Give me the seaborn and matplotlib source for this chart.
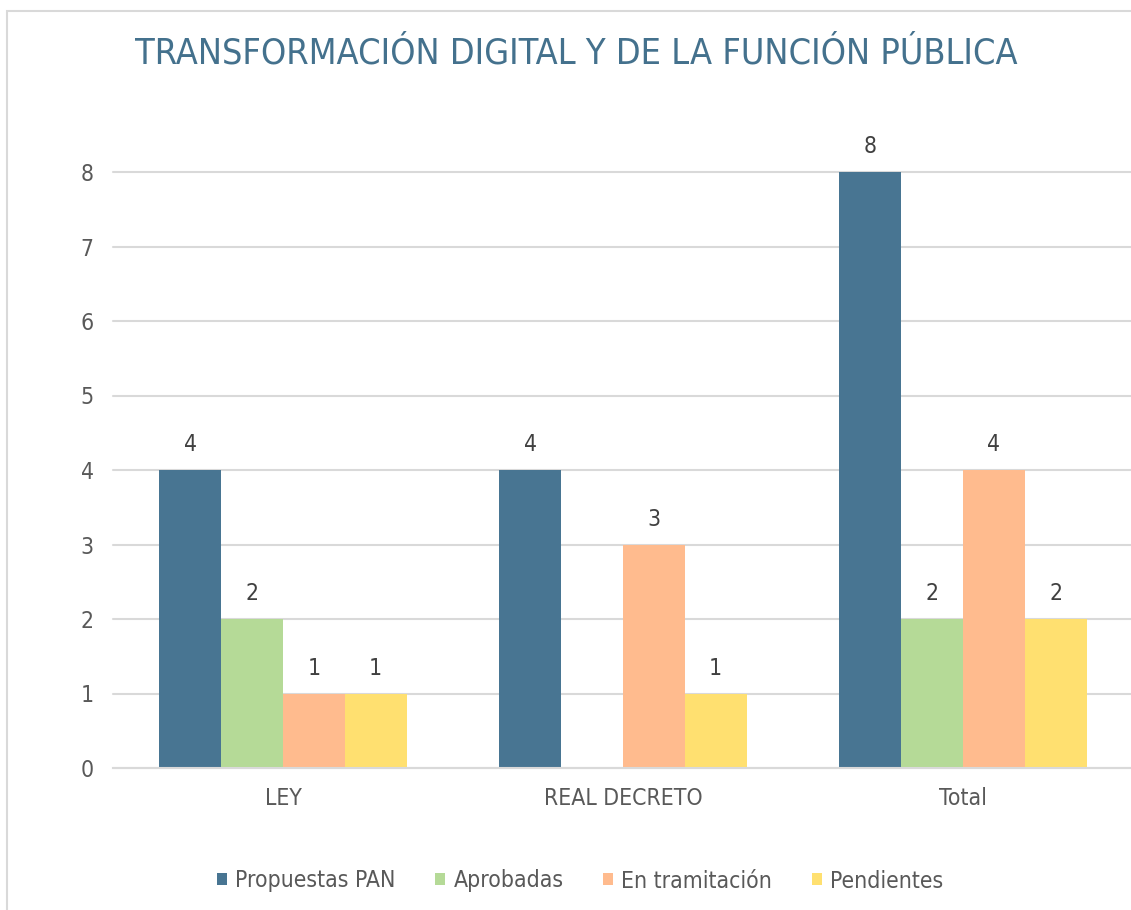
import matplotlib
matplotlib.use("Agg")
import matplotlib.pyplot as plt
import seaborn as sns
import pandas as pd
import numpy as np
from matplotlib.patches import Patch, Rectangle

categories = ["LEY", "REAL DECRETO", "Total"]
series = ["Propuestas PAN", "Aprobadas", "En tramitación", "Pendientes"]
propuestas = [4, 4, 8]
aprobadas = [2, np.nan, 2]
tramitacion = [1, 3, 4]
pendientes = [1, 1, 2]
colors = ["#487592", "#B5DA97", "#FFBB8E", "#FFE070"]
title = "TRANSFORMACIÓN DIGITAL Y DE LA FUNCIÓN PÚBLICA"

rows = []
for s, vals in zip(series, [propuestas, aprobadas, tramitacion, pendientes]):
    for c, v in zip(categories, vals):
        rows.append({"cat": c, "serie": s, "valor": v})
df = pd.DataFrame(rows)

sns.set_theme(style="white")
plt.rcParams['font.family'] = ['DejaVu Sans']
plt.rcParams['font.stretch'] = 'condensed'

W, H = 1131, 910
fig = plt.figure(figsize=(W / 100, H / 100), dpi=100)
fig.patch.set_facecolor("white")

# chart frame
fig.add_artist(Rectangle((7 / W, -0.1), 1.2, (H - 11) / H + 0.1, transform=fig.transFigure,
                         fill=False, edgecolor="#D9D9D9", linewidth=1.5))

ax = fig.add_axes([113 / W, (H - 768) / H, 1020 / W, (768 - 172) / H])
sns.barplot(data=df.dropna(), x="cat", y="valor", hue="serie", order=categories,
            hue_order=series, palette=colors, width=0.727, gap=0, dodge=True,
            saturation=1, ax=ax, legend=False, linewidth=0)

ax.set_ylim(0, 8)
ax.set_xlim(-0.5, 2.5)
ax.set_yticks(range(0, 9))
ax.yaxis.grid(True, color="#D9D9D9", linewidth=1.5)
for gl in ax.get_ygridlines():
    gl.set_clip_on(False)
ax.set_axisbelow(True)
for sp in ["top", "right", "left"]:
    ax.spines[sp].set_visible(False)
ax.spines["bottom"].set_color("#D9D9D9")
ax.spines["bottom"].set_linewidth(1.5)
ax.tick_params(axis="y", length=0, pad=14, labelsize=16.5, labelcolor="#595959")
ax.tick_params(axis="x", length=0, pad=13.5, labelsize=16.5, labelcolor="#595959")
ax.set_xlabel("")
ax.set_ylabel("")

for cont in ax.containers:
    ax.bar_label(cont, fmt="%g", padding=10, fontsize=16.5, color="#404040", clip_on=False)

fig.text(576 / W, (H - 54) / H, title, ha="center", va="center", fontsize=25.8,
         color="#44718D", fontstretch="condensed")

handles = [Patch(facecolor=c, edgecolor="none") for c in colors]
fig.legend(handles, series, loc="center", bbox_to_anchor=(580 / W, (H - 881) / H), ncol=4,
           frameon=False, fontsize=16.5, handlelength=0.45, handleheight=0.45,
           handletextpad=0.35, columnspacing=1.72, labelcolor="#595959")

fig.savefig("out.png", dpi=100)
